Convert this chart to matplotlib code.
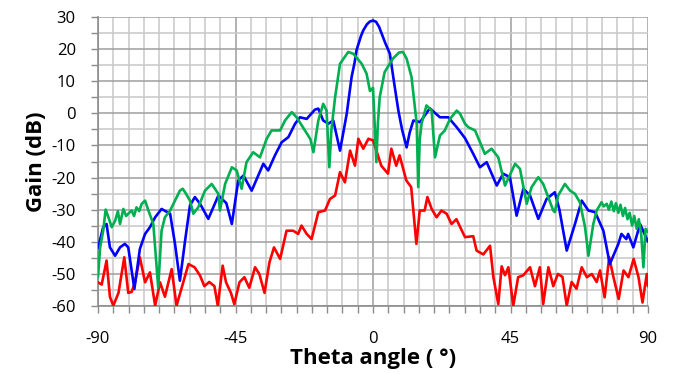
import matplotlib
import matplotlib.pyplot as plt
from matplotlib.ticker import MultipleLocator

# --- data (theta in degrees, gain in dB) ---
blue_theta = [-90, -88.3, -87.2, -86.1, -84.4, -82.8, -81.2, -80.1, -78.1, -76.3,
              -74.6, -73, -71.3, -69.2, -66.4, -64.8, -63.2, -61.5, -59.9, -58.3,
              -56.6, -53.9, -50.6, -48, -46.2, -44.1, -42.4, -39.7, -35.9, -34.3,
              -32.1, -29.9, -27.7, -25.5, -23.9, -21.7, -19, -17.9, -16.3, -14.6,
              -13, -10.8, -8.6, -7, -6, -5.4, -4, -3.2, -2, -1, 0, 1, 2, 3, 4,
              5.5, 7, 8.3, 9.5, 11, 12, 13.2, 15.4, 18.6, 21.9, 24.6, 27.4, 30.1,
              32.8, 35, 37.2, 40.5, 42.6, 44.8, 47, 49.2, 51.4, 54.1, 56.8, 59.5,
              61, 63.4, 66.1, 68.3, 70.5, 72.7, 75.4, 77.5, 80.3, 81.3, 82.9, 83.5,
              85.2, 87.4, 90]
blue_gain = [-42, -35.5, -34.5, -41.8, -44.4, -41.8, -40.7, -41.8, -54.8, -42.3,
             -37.6, -35.5, -32.4, -29.8, -31.3, -40.7, -52.2, -39.7, -28.7, -26.1,
             -28.2, -32.9, -25.6, -28, -34.5, -20.9, -19.4, -24.1, -15.7, -17.8,
             -13.1, -9, -7.4, -3.2, -1.2, -1.7, 1.2, 1.5, -2.2, -3.2,
             -2.2, -11.6, -0.1, 11.4, 16, 19.7, 24, 25.9, 27.8, 28.7, 29, 28.6, 27, 24.5, 22,
             18.7, 9, 0.9, -5, -10.6, -6, -2.2, -2.7, 1.6, -1.2, -1.2, -4.3, -7.7,
             -12.6, -16.8, -15.2, -22.5, -18.8, -19.9, -31.9, -23.5, -25.6, -32.9, -26.7, -24.6,
             -30, -42.8, -34.5, -27.2, -30.3, -30.8, -36.6, -47, -40.7, -37.6, -39.2, -37.6,
             -41.8, -34.5, -40]

green_theta = [-90, -89.3, -88.3, -87.5, -86.6, -85.5, -84.4, -83.5, -82.8, -81.7,
               -80.8, -80.1, -79, -78.2, -77.4, -76.5, -75.7, -74.6, -73.5, -71.9,
               -70.3, -69.2, -68.1, -66.4, -64.8, -63.2, -62.3, -61.5, -59.9, -58.8,
               -57.2, -55, -52.8, -50.6, -50.1, -48.4, -46.2, -44.6, -43, -41.4,
               -39.2, -37, -34.8, -33.2, -30.4, -28.8, -26.6, -25, -22.3, -20.5,
               -19.5, -17.9, -16.3, -15.2, -14.3, -13.6, -12.4, -10.8, -8.1, -6.4,
               -3.7, -2.1, -1, 0, 0.6, 1.1, 1.6, 2.2, 3.8, 6.5, 8.5, 9.8, 11, 12.6,
               14.3, 14.8, 15.3, 15.9, 17.5, 19.2, 20.3, 21.9, 23.5, 25.2, 27.4, 28.5,
               30.1, 31.2, 33.4, 36.6, 38.8, 41, 43.2, 46.5, 48.1, 50.3, 51.9, 54.1,
               55.7, 59, 59.5, 60.6, 62.8, 64.5, 66.1, 67.7, 69.4, 70.5, 72.1, 73.2,
               74.8, 75.5, 76.5, 77.2, 78, 78.8, 79.5, 80.3, 81, 81.8, 82.5, 83.3,
               84, 84.8, 85.5, 86.3, 87, 87.8, 88.5, 89.2, 90]
green_gain = [-51, -41.8, -36.6, -30, -32.4, -35.5, -33.5, -30.5, -34.5, -29.8,
              -32, -31.3, -30.3, -32, -29.3, -30.5, -28.2, -27.2, -30.3, -34.5,
              -54.3, -36.6, -32.4, -30.3, -27.2, -24.1, -23.5, -24.6, -27.2, -31.3,
              -29.3, -24.1, -22, -25.1, -30.3, -22, -16.8, -17.8, -23.5, -15.2,
              -12.1, -13.7, -7.9, -5.3, -5.3, -2.2, 0.4, -1.2, -5.3, -8,
              -12.1, -2.2, 3, 0.9, -16.8, -5, 5.1, 15.5, 19.2, 18.6,
              15.5, 12.4, 7, 8, -5, -15.2, -3, 5.1, 12.9, 17.1, 19, 19.2, 17.1, 11.4,
              -3.2, -23, -8, -3.2, 2.5, 0.9, -13.7, -6.9, -5.3, -1.7, 0.9, -0.1,
              -3.2, -4.3, -5.3, -12.6, -11, -13.7, -22.5, -15.7, -17.3, -28.2, -23, -19.9,
              -22, -30.3, -30.8, -25.6, -22, -24.1, -25.1, -27.7, -35.5, -44.4, -34.5, -30.3,
              -27.7, -29, -28.2, -30, -27.5, -30.5, -28, -31, -28.5, -32, -29.5, -33,
              -31, -35, -32, -36, -33, -38, -48, -36, -37]

red_theta = [-90, -88.8, -87.2, -86.1, -85, -83.3, -81.4, -80.1, -79, -77.9,
             -76.3, -74.6, -73, -71.3, -69.7, -68.1, -65.9, -64.3, -62.1, -60.4,
             -58.4, -56.6, -55.2, -53.6, -51.9, -50.8, -49.2, -48.1, -46.5, -45.4,
             -43.7, -42.1, -40.5, -38.6, -37.2, -35.5, -33.9, -32.4, -30.4, -28.3,
             -26.1, -24.5, -23.4, -21.7, -20.1, -17.9, -15.7, -14.1, -12.4, -10.8,
             -9.2, -7.5, -5.9, -4.8, -3.2, -1.5, 0, 1.1, 2.7, 4.9, 6, 7.6, 8.7,
             10.9, 12.5, 14.2, 15.3, 16.9, 17.8, 19.2, 20.8, 22.4, 24.1, 25.7, 27.3,
             30.1, 32.8, 33.9, 36.1, 38.3, 39.4, 41, 42.1, 43.2, 44.3, 45.9, 47.5,
             49.2, 51.4, 53, 54.6, 55.7, 57.4, 59, 60.5, 62, 63.4, 65, 66.6, 68.3,
             70, 71.6, 73.2, 74.3, 75.8, 77.3, 78.7, 80.4, 82, 83.6, 85.3, 86.9,
             88.2, 89.6, 90]
red_gain = [-52.7, -53.4, -45.9, -57.2, -60, -56, -44.9, -56, -55.7, -52.7,
            -44.9, -52.7, -49.6, -60, -52.7, -57.2, -48.6, -60, -52.7, -47,
            -48, -50.6, -53.9, -52.6, -53.9, -60, -47.5, -52.7, -56, -59.5,
            -52.7, -51.1, -54.4, -48, -50.1, -56, -46.5, -41.8, -45.4, -36.6,
            -36.6, -37.6, -35, -37.6, -39.2, -30.8, -30.3, -26.7, -25.6, -18.3,
            -21.5, -11.6, -16.3, -7.9, -11, -7.9, -8.4, -11.6, -16.3, -18.8, -11, -16.3, -13.1,
            -20.9, -23, -40.7, -30.3, -30.3, -26.1, -29.8, -32.4, -30.3, -31.3, -34.5, -33,
            -38.6, -38.3, -42.8, -44, -41.3, -51.1, -59.5, -47.7, -50.5, -48, -60, -51.1,
            -50.5, -48, -53.9, -48, -59.5, -48, -53.9, -50.1, -51, -60, -52.6, -54.7, -48,
            -51.1, -50.1, -52.6, -49, -57.4, -44.9, -51.1, -57.9, -49, -51.1, -45.4, -51.1,
            -59, -50.1, -53.9]

x_ticks = [-90, -45, 0, 45, 90]

plt.rcParams['font.family'] = ['Open Sans', 'DejaVu Sans']
plt.rcParams['axes.unicode_minus'] = False

fig = plt.figure(figsize=(6.75, 3.74), dpi=100)
ax = fig.add_axes([0.1452, 0.1826, 0.8148, 0.7711])

line_kw = dict(lw=1.9, solid_joinstyle='round', solid_capstyle='round')
ax.plot(red_theta, red_gain, color='#FF0000', zorder=3, **line_kw)
ax.plot(blue_theta, blue_gain, color='#0000FF', zorder=4, **line_kw)
ax.plot(green_theta, green_gain, color='#00B050', zorder=5, **line_kw)

ax.set_xlim(-90, 90)
ax.set_ylim(-60, 30)
ax.set_xticks(x_ticks)
ax.xaxis.set_minor_locator(MultipleLocator(5))
ax.yaxis.set_major_locator(MultipleLocator(10))
ax.yaxis.set_minor_locator(MultipleLocator(5))

ax.grid(which='minor', color='#C8C8C8', lw=1.1)
ax.grid(which='major', color='#9E9E9E', lw=1.1)
ax.set_axisbelow(True)

for s in ['top', 'right']:
    ax.spines[s].set_visible(False)
for s in ['left', 'bottom']:
    ax.spines[s].set_color('#8C8C8C')
    ax.spines[s].set_linewidth(1.2)

ax.tick_params(which='both', direction='out', color='#8C8C8C', width=1.0, length=5,
               labelsize=12, labelcolor='black')
ax.tick_params(axis='y', pad=11)
ax.tick_params(axis='x', pad=13)

ax.set_xlabel('Theta angle ( °)', fontsize=16, fontweight='bold', labelpad=1)
ax.set_ylabel('Gain (dB)', fontsize=16, fontweight='bold', labelpad=3)

fig.savefig('out.png', dpi=100)
